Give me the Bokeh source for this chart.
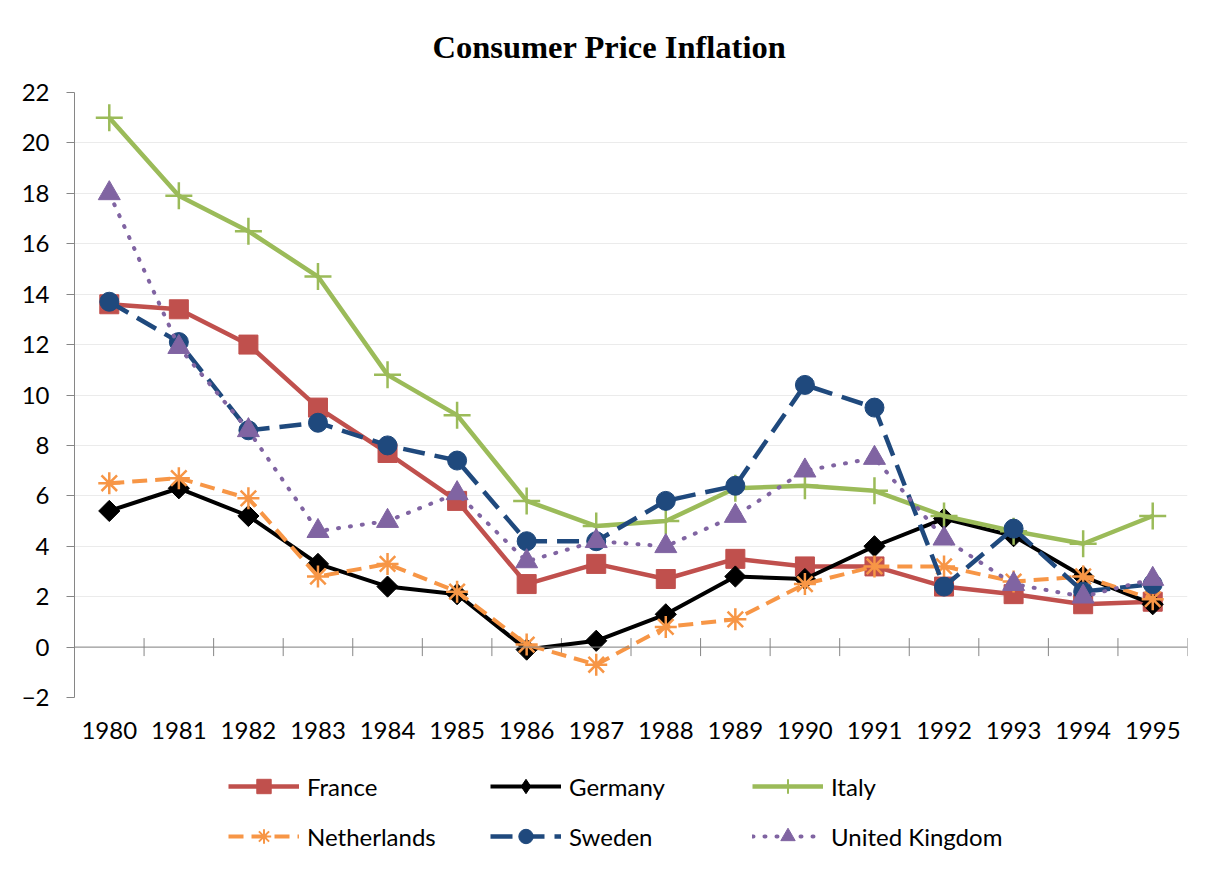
import math
from bokeh.plotting import figure
from bokeh.layouts import column
from bokeh.models import Range1d, FixedTicker, Span, Legend, LegendItem
from bokeh.embed import file_html
from bokeh.resources import INLINE

# ---- data ----
years = [str(y) for y in range(1980, 1996)]
france = [13.6, 13.4, 12.0, 9.5, 7.7, 5.8, 2.5, 3.3, 2.7, 3.5, 3.2, 3.2, 2.4, 2.1, 1.7, 1.8]
germany = [5.4, 6.3, 5.2, 3.3, 2.4, 2.1, -0.1, 0.25, 1.3, 2.8, 2.7, 4.0, 5.1, 4.4, 2.8, 1.7]
italy = [21.0, 17.9, 16.5, 14.7, 10.8, 9.2, 5.8, 4.8, 5.0, 6.3, 6.4, 6.2, 5.2, 4.6, 4.1, 5.2]
netherlands = [6.5, 6.7, 5.9, 2.8, 3.3, 2.2, 0.1, -0.7, 0.8, 1.1, 2.5, 3.2, 3.2, 2.6, 2.8, 1.9]
sweden = [13.7, 12.1, 8.6, 8.9, 8.0, 7.4, 4.2, 4.2, 5.8, 6.4, 10.4, 9.5, 2.4, 4.7, 2.2, 2.5]
uk = [18.0, 11.9, 8.6, 4.6, 5.0, 6.1, 3.4, 4.2, 4.0, 5.2, 7.0, 7.5, 4.3, 2.5, 2.0, 2.7]
y_ticks = list(range(-2, 23, 2))

x = [i + 0.5 for i in range(len(years))]

FONT = "Lato"
AXIS_GREY = "#868686"
W = 1209
H_MAIN, H_LEG = 760, 104
MB_L, MB_R, MB_T, MB_B = 74, 22, 92, 63

p = figure(width=W, height=H_MAIN, output_backend="svg", toolbar_location=None,
           x_range=Range1d(0, len(years)), y_range=Range1d(-2, 22),
           min_border_left=MB_L, min_border_right=MB_R, min_border_top=MB_T,
           min_border_bottom=MB_B, background_fill_color="white",
           border_fill_color="white")
p.outline_line_color = None

# title
p.title.text = "Consumer Price Inflation"
p.title.text_font = "Liberation Serif"
p.title.text_font_style = "bold"
p.title.text_font_size = "32.5px"
p.title.text_color = "black"
p.title.align = "left"
p.title.vertical_align = "top"
p.title.offset = 358
p.title.standoff = 52

# y axis
yax = p.yaxis[0]
yax.ticker = FixedTicker(ticks=y_ticks)
yax.axis_line_color = AXIS_GREY
yax.major_tick_line_color = AXIS_GREY
yax.major_tick_out = 8
yax.major_tick_in = 0
yax.minor_tick_line_color = None
yax.major_label_text_font = FONT
yax.major_label_text_font_size = "24px"
yax.major_label_text_color = "black"
yax.major_label_standoff = 17

# x axis (labels only, at bottom)
xax = p.xaxis[0]
xax.ticker = FixedTicker(ticks=x)
xax.major_label_overrides = {xi: yr for xi, yr in zip(x, years)}
xax.axis_line_color = None
xax.major_tick_line_color = None
xax.minor_tick_line_color = None
xax.major_tick_out = 0
xax.major_tick_in = 0
xax.major_label_text_font = FONT
xax.major_label_text_font_size = "24px"
xax.major_label_text_color = "black"
xax.major_label_standoff = 24

p.xgrid.grid_line_color = None
p.ygrid.ticker = FixedTicker(ticks=y_ticks)
p.ygrid.grid_line_color = "#EBEBEB"
p.ygrid.grid_line_width = 1

# category axis crossing at zero
p.add_layout(Span(location=0, dimension="width", line_color=AXIS_GREY, line_width=1))
frame_h = H_MAIN - MB_T - MB_B
px_per_unit = frame_h / (22 - (-2))
tick_half = 9 / px_per_unit
bounds = list(range(1, len(years) + 1))
p.segment(x0=bounds, x1=bounds, y0=[-tick_half] * len(bounds), y1=[tick_half] * len(bounds),
          line_color=AXIS_GREY, line_width=1)

# name, values, colour, dash, chart marker, chart marker style, legend marker, legend style, line width
series = [
    ("France", france, "#C0504D", None, "square", dict(size=19), "square", dict(size=14), 4.5),
    ("Germany", germany, "#000000", None, "square", dict(size=15, angle=math.pi / 4),
     "diamond", dict(size=17), 4),
    ("Italy", italy, "#9BBB59", None, "cross", dict(size=27, line_width=2.5),
     "cross", dict(size=20, line_width=2), 4.5),
    ("Netherlands", netherlands, "#F79646", "15 8", "asterisk", dict(size=22, line_width=2.5),
     "asterisk", dict(size=18, line_width=2), 4),
    ("Sweden", sweden, "#1F497D", "22 10", "circle", dict(size=19),
     "circle", dict(size=14), 4.5),
    ("United Kingdom", uk, "#8064A2", "1 11", "triangle", dict(size=22),
     "triangle", dict(size=16), 4),
]


def draw_series(fig, name, vals, color, dash, marker, mk, lw):
    lkw = dict(line_color=color, line_width=lw, line_join="round")
    if dash:
        lkw["line_dash"] = dash
        lkw["line_cap"] = "round" if name == "United Kingdom" else "butt"
    lr = fig.line(x, vals, **lkw)
    mkw = dict(mk)
    if marker in ("cross", "asterisk"):
        mkw.setdefault("line_color", color)
    else:
        mkw["fill_color"] = color
        mkw["line_color"] = color
        mkw.setdefault("line_width", 1)
    sr = fig.scatter(x, vals, marker=marker, **mkw)
    return lr, sr


for name, vals, color, dash, marker, mk, lmarker, lmk, lw in series:
    draw_series(p, name, vals, color, dash, marker, mk, lw)

# legend panel below the chart (its own figure; the series are drawn off-range there)
pl = figure(width=W, height=H_LEG, output_backend="svg", toolbar_location=None,
            x_range=Range1d(-100, -99), y_range=Range1d(-100, -99),
            min_border_left=0, min_border_right=0, min_border_top=0, min_border_bottom=0,
            background_fill_color="white", border_fill_color="white")
pl.outline_line_color = None
pl.axis.visible = False
pl.grid.visible = False

items = []
for name, vals, color, dash, marker, mk, lmarker, lmk, lw in series:
    lr, sr = draw_series(pl, name, vals, color, dash, lmarker, lmk, lw)
    items.append(LegendItem(label=name, renderers=[lr, sr]))

legend = Legend(items=items, orientation="horizontal", ncols=3,
                location=(154, 10), padding=0, margin=0, spacing=14,
                glyph_width=71, glyph_height=36, label_height=36, label_width=169,
                label_standoff=8, label_text_font=FONT, label_text_font_size="24px",
                label_text_color="black", border_line_color=None,
                background_fill_alpha=0)
pl.add_layout(legend)

layout = column(p, pl, spacing=0)
open("out.html", "w").write(file_html(layout, INLINE))
